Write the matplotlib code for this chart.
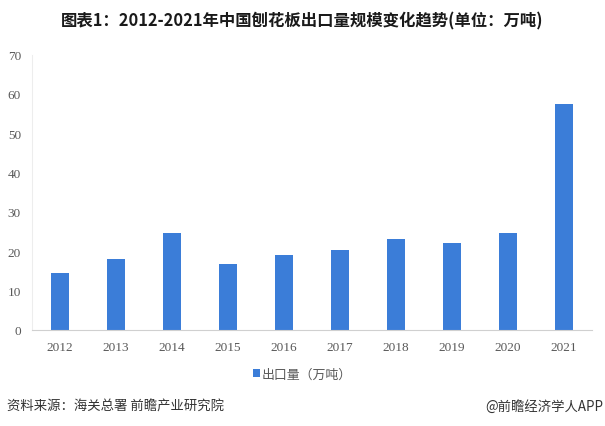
import matplotlib.pyplot as plt

plt.rcParams['font.family'] = ['Noto Sans CJK SC', 'DejaVu Sans']

# data
years = ['2012', '2013', '2014', '2015', '2016', '2017', '2018', '2019', '2020', '2021']
export_vol = [14.5, 18.1, 24.7, 16.8, 19.1, 20.4, 23.1, 22.1, 24.7, 57.5]
yticks = [0, 10, 20, 30, 40, 50, 60, 70]

title = '图表1：2012-2021年中国刨花板出口量规模变化趋势(单位：万吨)'
series_name = '出口量（万吨）'
source = '资料来源：海关总署 前瞻产业研究院'
credit = '@前瞻经济学人APP'

bar_color = '#3b7dd8'
grey = '#595959'

fig = plt.figure(figsize=(6.05, 4.27), dpi=100)
ax = fig.add_axes([0.053, 0.225, 0.925, 0.645])

x = range(len(years))
bars = ax.bar(x, export_vol, width=0.32, color=bar_color, label=series_name)

ax.set_xlim(-0.5, len(years) - 0.5)
ax.set_ylim(0, 70)
ax.set_yticks(yticks)
ax.set_xticks(list(x))
ax.set_xticklabels(years)

for lbl in ax.get_xticklabels() + ax.get_yticklabels():
    lbl.set_fontfamily('Liberation Serif')
    lbl.set_fontsize(9.5)
    lbl.set_color(grey)

ax.tick_params(axis='both', length=0)
ax.tick_params(axis='x', pad=8)
ax.tick_params(axis='y', pad=8)

for s in ['top', 'right']:
    ax.spines[s].set_visible(False)
ax.spines['left'].set_color('#ededed')
ax.spines['left'].set_linewidth(0.8)
ax.spines['bottom'].set_color('#d0d0d0')
ax.spines['bottom'].set_linewidth(0.8)

# title
fig.text(0.5, 0.95, title, ha='center', va='center', fontsize=11.8,
         fontweight='bold', color='#1a1a1a')

# legend
leg = fig.legend(handles=[bars], labels=[series_name], loc='center',
                 bbox_to_anchor=(0.5, 0.122), frameon=False, fontsize=9.3,
                 handlelength=0.55, handleheight=0.55, handletextpad=0.15)
for t in leg.get_texts():
    t.set_color(grey)

# footer
fig.text(0.012, 0.048, source, ha='left', va='center', fontsize=9.6, color='#333333')
fig.text(0.997, 0.048, credit, ha='right', va='center', fontsize=9.6, color='#333333')

fig.savefig('out.png', dpi=100)
